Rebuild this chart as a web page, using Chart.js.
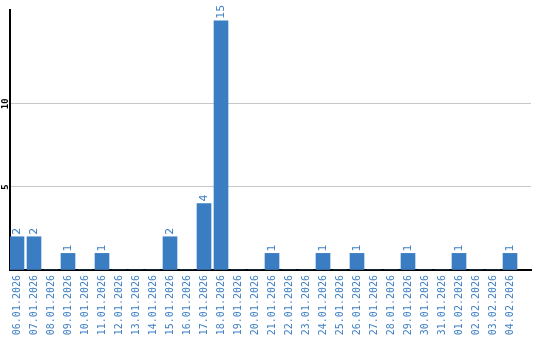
<!DOCTYPE html>
<html>
<head>
<meta charset="utf-8">
<script src="https://cdn.jsdelivr.net/npm/chart.js@4/dist/chart.umd.min.js"></script>
<style>
  html, body { margin: 0; padding: 0; background: #fff; }
  #wrap { width: 540px; height: 340px; }
</style>
</head>
<body>
<div id="wrap"><canvas id="chart"></canvas></div>
<script>
// dates shown under the bars
const days = ['06.01.2026', '07.01.2026', '08.01.2026', '09.01.2026', '10.01.2026',
  '11.01.2026', '12.01.2026', '13.01.2026', '14.01.2026', '15.01.2026',
  '16.01.2026', '17.01.2026', '18.01.2026', '19.01.2026', '20.01.2026',
  '21.01.2026', '22.01.2026', '23.01.2026', '24.01.2026', '25.01.2026',
  '26.01.2026', '27.01.2026', '28.01.2026', '29.01.2026', '30.01.2026',
  '31.01.2026', '01.02.2026', '02.02.2026', '03.02.2026', '04.02.2026'];
// count per day
const counts = [2, 2, 0, 1, 0, 1, 0, 0, 0, 2,
  0, 4, 15, 0, 0, 1, 0, 0, 1, 0,
  1, 0, 0, 1, 0, 0, 1, 0, 0, 1];
// labelled y ticks
const yTicks = [5, 10];

const barBlue = '#3a7dc3';
const textBlue = '#3f80c4';

const valueLabels = {
  id: 'valueLabels',
  afterDatasetsDraw(chart) {
    const ctx = chart.ctx;
    const meta = chart.getDatasetMeta(0);
    ctx.save();
    ctx.fillStyle = textBlue;
    ctx.font = '11px "DejaVu Sans"';
    ctx.textAlign = 'left';
    ctx.textBaseline = 'middle';
    meta.data.forEach((bar, i) => {
      if (!counts[i]) return;
      ctx.save();
      ctx.translate(bar.x, bar.y - 2);
      ctx.rotate(-Math.PI / 2);
      ctx.fillText(String(counts[i]), 0, 0);
      ctx.restore();
    });
    ctx.restore();
  }
};

const points = counts.map((v, i) => ({ x: i, y: v }));

new Chart(document.getElementById('chart'), {
  type: 'bar',
  data: {
    datasets: [{
      data: points,
      backgroundColor: barBlue,
      borderWidth: 0,
      barThickness: 14
    }]
  },
  options: {
    responsive: true,
    maintainAspectRatio: false,
    animation: false,
    layout: { padding: { top: 10, right: 9, left: 0, bottom: 0 } },
    plugins: { legend: { display: false }, tooltip: { enabled: false } },
    scales: {
      x: {
        type: 'linear',
        offset: false,
        min: -7 / 17,
        max: -7 / 17 + 521 / 17,
        afterFit(scale) { scale.height = 70; },
        afterBuildTicks(scale) {
          scale.ticks = days.map((d, i) => ({ value: i }));
        },
        grid: { display: false, drawTicks: false },
        border: { display: true, color: '#000', width: 2 },
        ticks: {
          autoSkip: false,
          minRotation: 90,
          maxRotation: 90,
          padding: 5,
          color: textBlue,
          font: { family: '"DejaVu Sans Mono"', size: 10 },
          callback: (v) => days[v] || ''
        }
      },
      y: {
        min: 0,
        max: 15.65,
        afterFit(scale) { scale.width = 10; },
        afterBuildTicks(scale) {
          scale.ticks = [0].concat(yTicks).map(v => ({ value: v }));
        },
        grid: {
          drawTicks: false,
          color: (c) => yTicks.includes(c.tick.value) ? '#c8c8c8' : 'rgba(0,0,0,0)'
        },
        border: { display: true, color: '#000', width: 2 },
        ticks: {
          minRotation: 90,
          maxRotation: 90,
          crossAlign: 'center',
          padding: -1,
          color: '#000',
          font: { family: '"DejaVu Sans Mono"', size: 9, weight: 'bold' },
          callback: (v) => yTicks.includes(v) ? String(v) : ''
        }
      }
    }
  },
  plugins: [valueLabels]
});
</script>
</body>
</html>
